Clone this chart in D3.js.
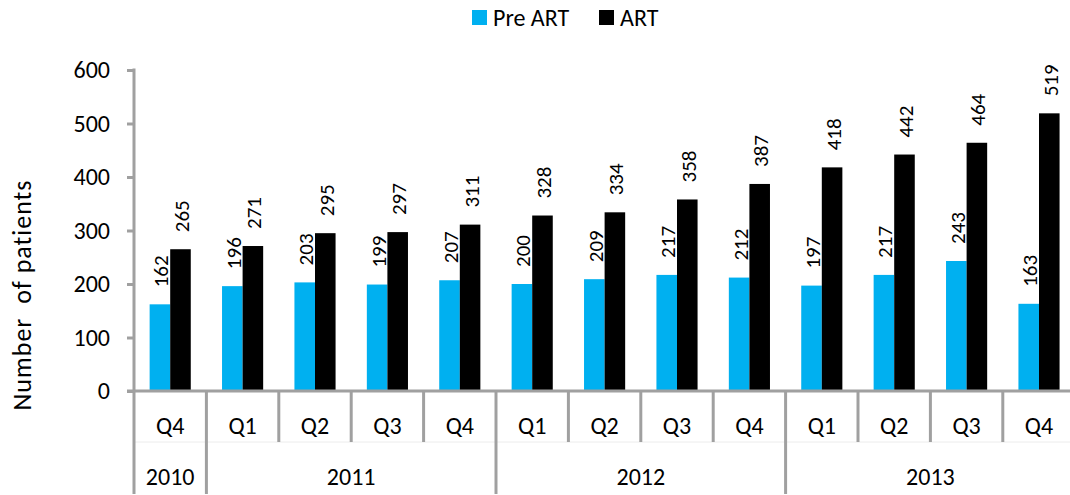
<!DOCTYPE html>
<html>
<head>
  <meta charset="utf-8">
  <title>Pre ART and ART patients by quarter</title>
  <script src="https://d3js.org/d3.v7.min.js"></script>
  <style>
    body { margin: 0; background: #fff; }
    svg text { font-family: Carlito, Lato, "Open Sans", sans-serif; fill: #000; }
  </style>
</head>
<body>
<svg class="chart"></svg>
<script>

// Data
const quarters = ["Q4", "Q1", "Q2", "Q3", "Q4", "Q1", "Q2", "Q3", "Q4", "Q1", "Q2", "Q3", "Q4"];
const years = ["2010", "2011", "2011", "2011", "2011", "2012", "2012", "2012", "2012", "2013", "2013", "2013", "2013"];
const preArt = [162, 196, 203, 199, 207, 200, 209, 217, 212, 197, 217, 243, 163];
const art = [265, 271, 295, 297, 311, 328, 334, 358, 387, 418, 442, 464, 519];
const seriesNames = ["Pre ART", "ART"];
const seriesColors = ["#00B0F0", "#000000"];
const yTicks = [0, 100, 200, 300, 400, 500, 600];

const width = 1070, height = 495;
const plotLeft = 134, plotBottom = 391, plotTop = 70;
const step = 72.4;
const grey = "#A0A0A0";

const svg = d3.select(".chart")
  .attr("width", width)
  .attr("height", height);

// Scales
const idx = d3.range(quarters.length);
const x = d3.scaleBand()
  .domain(idx)
  .range([plotLeft, plotLeft + step * idx.length])
  .padding(0);

const x1 = d3.scaleBand()
  .domain(seriesNames)
  .range([0, x.bandwidth()])
  .paddingInner(0)
  .paddingOuter(0.76);

const y = d3.scaleLinear()
  .domain([0, 600])
  .range([plotBottom, plotTop]);

// faint row divider between quarter and year rows
svg.append("line")
  .attr("x1", plotLeft).attr("x2", width)
  .attr("y1", 442).attr("y2", 442)
  .attr("stroke", "#ececec").attr("stroke-width", 1);

// Y axis
const yAxis = svg.append("g")
  .attr("transform", `translate(${plotLeft}, 0)`)
  .call(d3.axisLeft(y).tickValues(yTicks).tickSize(7).tickPadding(17));
yAxis.select(".domain").remove();
yAxis.selectAll(".tick line").attr("stroke", grey).attr("stroke-width", 3);
yAxis.selectAll(".tick text").style("font-size", "24px");

// y axis line (runs down through the category rows)
svg.append("line")
  .attr("x1", plotLeft).attr("x2", plotLeft)
  .attr("y1", plotTop - 1.5).attr("y2", 494)
  .attr("stroke", grey).attr("stroke-width", 3);

// Y axis title
svg.append("text")
  .attr("transform", `translate(31, 295) rotate(-90)`)
  .attr("text-anchor", "middle")
  .style("font-size", "26px")
  .style("letter-spacing", "1px")
  .style("white-space", "pre")
  .text("Number  of patients");

// Bars
const rows = idx.map(i => ({ i, values: [preArt[i], art[i]] }));

const groups = svg.selectAll(".grp")
  .data(rows)
  .join("g")
  .attr("class", "grp")
  .attr("transform", d => `translate(${x(d.i)}, 0)`);

groups.selectAll("rect")
  .data(d => d.values.map((v, k) => ({ key: seriesNames[k], v, k })))
  .join("rect")
  .attr("x", d => x1(d.key))
  .attr("y", d => y(d.v))
  .attr("width", x1.bandwidth())
  .attr("height", d => y(0) - y(d.v))
  .attr("fill", d => seriesColors[d.k]);

// Data labels, rotated
groups.selectAll(".lbl")
  .data(d => d.values.map((v, k) => ({ key: seriesNames[k], v, k })))
  .join("text")
  .attr("class", "lbl")
  .attr("transform", d => `translate(${x1(d.key) + x1.bandwidth() / 2 + 8.5}, ${y(d.v) - 17}) rotate(-90)`)
  .attr("text-anchor", "start")
  .style("font-size", "21px")
  .text(d => d.v);

// X axis line
svg.append("line")
  .attr("x1", plotLeft - 7).attr("x2", width)
  .attr("y1", plotBottom).attr("y2", plotBottom)
  .attr("stroke", grey).attr("stroke-width", 3);

// Category separators: short for quarters, long where the year changes
idx.slice(1).forEach(i => {
  const yearBreak = years[i] !== years[i - 1];
  svg.append("line")
    .attr("x1", x(i)).attr("x2", x(i))
    .attr("y1", plotBottom).attr("y2", yearBreak ? 494 : 442)
    .attr("stroke", grey).attr("stroke-width", 3);
});

// Quarter labels
svg.selectAll(".qlbl")
  .data(idx)
  .join("text")
  .attr("class", "qlbl")
  .attr("x", i => x(i) + x.bandwidth() / 2)
  .attr("y", 434)
  .attr("text-anchor", "middle")
  .style("font-size", "24px")
  .text(i => quarters[i]);

// Year labels centered on their span
const yearList = Array.from(new Set(years));
svg.selectAll(".ylbl")
  .data(yearList)
  .join("text")
  .attr("class", "ylbl")
  .attr("x", yr => {
    const ii = idx.filter(i => years[i] === yr);
    return (x(ii[0]) + x(ii[ii.length - 1]) + x.bandwidth()) / 2;
  })
  .attr("y", 485)
  .attr("text-anchor", "middle")
  .style("font-size", "24px")
  .text(yr => yr);

// Legend
const legendPos = [472, 599];
const legend = svg.selectAll(".leg")
  .data(seriesNames)
  .join("g")
  .attr("class", "leg")
  .attr("transform", (d, k) => `translate(${legendPos[k]}, 10)`);
legend.append("rect")
  .attr("width", 15).attr("height", 15)
  .attr("fill", (d, k) => seriesColors[k]);
legend.append("text")
  .attr("x", 21).attr("y", 16)
  .style("font-size", "24px")
  .text(d => d);

</script>
</body>
</html>
